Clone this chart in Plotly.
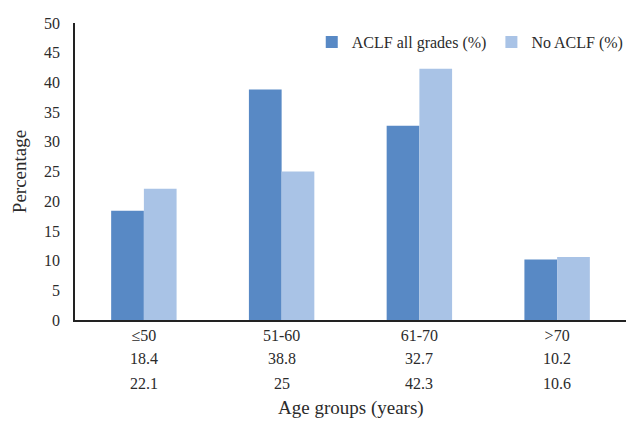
import plotly.graph_objects as go

categories = ["≤50", "51-60", "61-70", ">70"]
aclf_all = [18.4, 38.8, 32.7, 10.2]
no_aclf = [22.1, 25, 42.3, 10.6]
aclf_labels = ["18.4", "38.8", "32.7", "10.2"]
no_aclf_labels = ["22.1", "25", "42.3", "10.6"]

FONT = "Liberation Serif, Times New Roman, serif"
TXT = "#2b2b2b"

fig = go.Figure()
fig.add_trace(go.Bar(x=categories, y=aclf_all, name="ACLF all grades (%)",
                     marker=dict(color="#5889C5", line=dict(width=0))))
fig.add_trace(go.Bar(x=categories, y=no_aclf, name="No ACLF (%)",
                     marker=dict(color="#A9C3E6", line=dict(width=0))))

PH = 421 - 23 - 101
for row_vals, ypx in [(aclf_labels, 358), (no_aclf_labels, 383)]:
    for c, v in zip(categories, row_vals):
        fig.add_annotation(x=c, xref="x", y=(320 - ypx) / PH, yref="paper",
                           text=v, showarrow=False,
                           font=dict(family=FONT, size=16, color=TXT),
                           xanchor="center", yanchor="middle")

fig.add_annotation(x=0.5, xref="paper", y=(320 - 408) / PH, yref="paper",
                   text="Age groups (years)", showarrow=False,
                   font=dict(family=FONT, size=19, color=TXT),
                   xanchor="center", yanchor="middle")

fig.update_layout(
    width=629, height=421,
    margin=dict(l=75, r=0, t=23, b=101),
    paper_bgcolor="white", plot_bgcolor="white",
    barmode="group", bargap=0.525, bargroupgap=0,
    font=dict(family=FONT, size=16, color=TXT),
    showlegend=True,
    legend=dict(orientation="h", x=1.005, xanchor="right",
                y=(320 - 42) / PH, yanchor="middle",
                font=dict(family=FONT, size=16, color=TXT),
                bgcolor="rgba(0,0,0,0)", itemwidth=30, traceorder="normal"),
    xaxis=dict(showline=True, linecolor="#222222", linewidth=1.5,
               ticks="", showgrid=False, zeroline=False,
               tickfont=dict(family=FONT, size=16, color=TXT)),
    yaxis=dict(range=[0, 50], dtick=5, showline=True, linecolor="#222222",
               linewidth=1.5, ticks="", showgrid=False, zeroline=False,
               ticklabelstandoff=10,
               tickfont=dict(family=FONT, size=16, color=TXT),
               title=dict(text="Percentage", standoff=12,
                          font=dict(family=FONT, size=19, color=TXT))),
)

fig.write_html("out.html", config={"displayModeBar": False},
               post_script="document.body.style.margin='0';document.body.style.padding='0';")
